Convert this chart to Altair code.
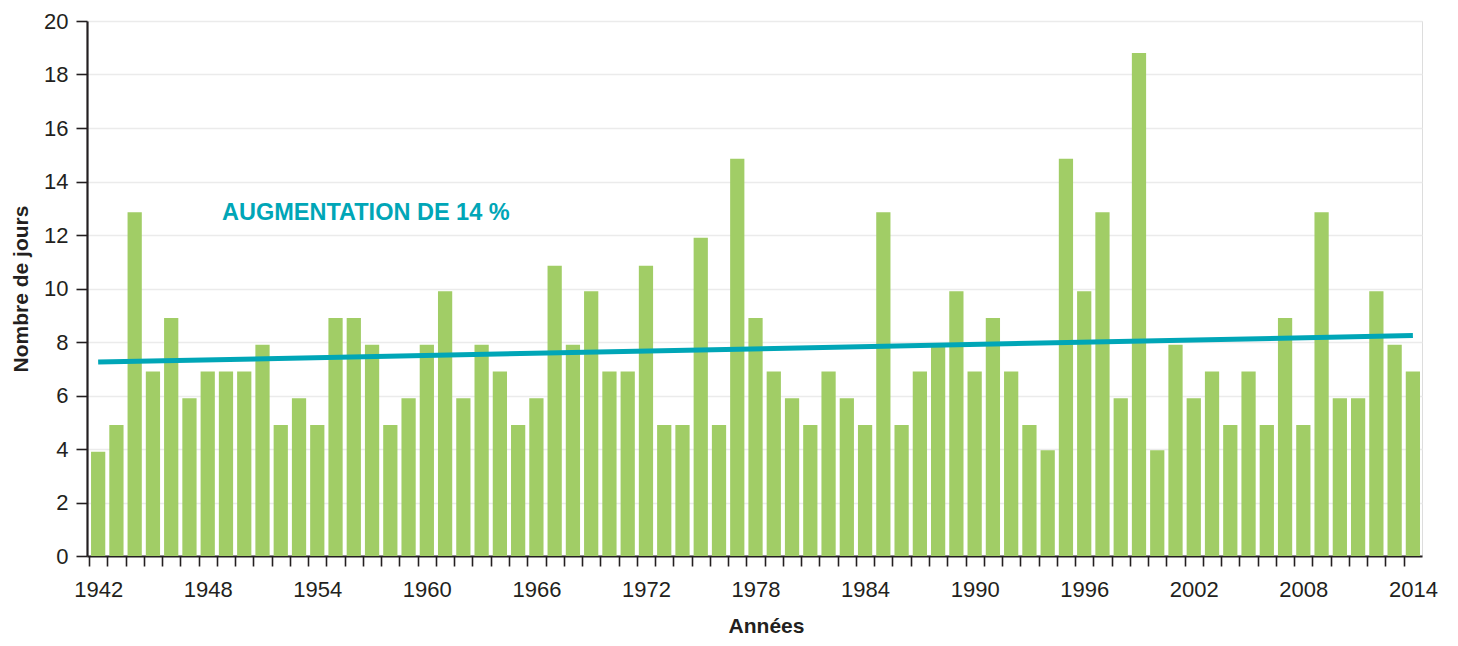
import altair as alt
import pandas as pd

years = list(range(1942, 2015))
days = [
    3.9, 4.9, 12.85, 6.9, 8.9, 5.9, 6.9, 6.9, 6.9, 7.9,      # 1942-1951
    4.9, 5.9, 4.9, 8.9, 8.9, 7.9, 4.9, 5.9, 7.9, 9.9,        # 1952-1961
    5.9, 7.9, 6.9, 4.9, 5.9, 10.85, 7.9, 9.9, 6.9, 6.9,      # 1962-1971
    10.85, 4.9, 4.9, 11.9, 4.9, 14.85, 8.9, 6.9, 5.9, 4.9,   # 1972-1981
    6.9, 5.9, 4.9, 12.85, 4.9, 6.9, 7.9, 9.9, 6.9, 8.9,      # 1982-1991
    6.9, 4.9, 3.95, 14.85, 9.9, 12.85, 5.9, 18.8, 3.95, 7.9, # 1992-2001
    5.9, 6.9, 4.9, 6.9, 4.9, 8.9, 4.9, 12.85, 5.9, 5.9,      # 2002-2011
    9.9, 7.9, 6.9,                                           # 2012-2014
]
trend_years = [1942, 2014]
trend_values = [7.25, 8.24]
annotation_text = ["AUGMENTATION DE 14 %"]
annotation_year = [1949]
annotation_value = [12.82]
y_ticks = list(range(0, 21, 2))

GREEN = "#a1cd66"
TEAL = "#00a6b7"
INK = "#231f20"
LABEL_FONT = "Liberation Sans"
TITLE_FONT = "Liberation Sans"

bars_df = pd.DataFrame({"annee": years, "jours": days})
trend_df = pd.DataFrame({"annee": trend_years, "jours": trend_values})
note_df = pd.DataFrame({"annee": annotation_year, "jours": annotation_value, "txt": annotation_text})

W, H = 1335, 535
step = W / (len(years) - 0.22 + 0.33)
half = step / 2

x_scale = alt.Scale(domain=years, paddingInner=0.22, paddingOuter=0.165, align=0.67)
y_scale = alt.Scale(domain=[0, 20], nice=False)

x_axis = alt.Axis(
    title="Années",
    labelExpr="(datum.value - 1942) % 6 == 0 ? datum.label : ''",
    labelAngle=0,
    labelFont=LABEL_FONT,
    labelFontSize=22,
    labelColor=INK,
    labelPadding=13,
    labelOverlap=False,
    tickOffset=-half,
    labelOffset=half,
    tickSize=10,
    tickWidth=1.6,
    tickColor=INK,
    domainColor=INK,
    domainWidth=2.2,
    grid=False,
    titleFont=TITLE_FONT,
    titleFontSize=21,
    titleFontWeight="bold",
    titleColor=INK,
    titlePadding=15,
    titleX=679,
)

y_axis = alt.Axis(
    title="Nombre de jours",
    values=y_ticks,
    labelFont=LABEL_FONT,
    labelFontSize=22,
    labelColor=INK,
    labelPadding=8,
    tickSize=11,
    tickWidth=1.6,
    tickColor=INK,
    domainColor=INK,
    domainWidth=2.2,
    gridColor="#ebebeb",
    gridWidth=1.6,
    titleFont=TITLE_FONT,
    titleFontSize=21,
    titleFontWeight="bold",
    titleColor=INK,
    titlePadding=12,
)

bars = alt.Chart(bars_df).mark_bar(color=GREEN).encode(
    x=alt.X("annee:O", scale=x_scale, axis=x_axis),
    y=alt.Y("jours:Q", scale=y_scale, axis=y_axis),
)

trend = alt.Chart(trend_df).mark_line(color=TEAL, strokeWidth=5, strokeCap="butt").encode(
    x=alt.X("annee:O", scale=x_scale),
    y=alt.Y("jours:Q", scale=y_scale),
)

note = alt.Chart(note_df).mark_text(
    color=TEAL, font=TITLE_FONT, fontSize=23.5, fontWeight="bold",
    align="left", baseline="middle", dx=-4,
).encode(
    x=alt.X("annee:O", scale=x_scale),
    y=alt.Y("jours:Q", scale=y_scale),
    text="txt:N",
)

chart = alt.layer(bars, trend, note).properties(
    width=W,
    height=H,
    autosize=alt.AutoSizeParams(type="none"),
    padding={"left": 79, "top": 13, "right": 28, "bottom": 82},
).configure_view(stroke=None).configure(background="white")

chart.save("out.html", embed_options={"renderer": "svg", "actions": False})
